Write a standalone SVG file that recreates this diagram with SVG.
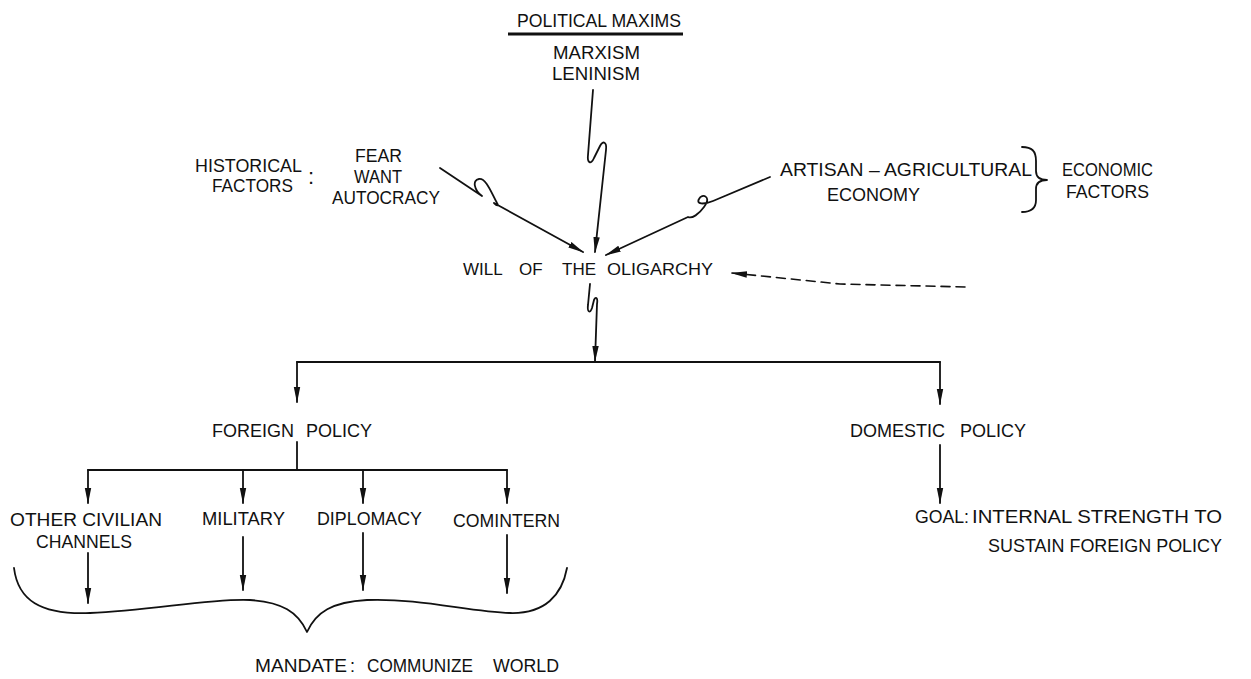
<svg xmlns="http://www.w3.org/2000/svg" width="1251" height="679" viewBox="0 0 1251 679">
<style>
text{font-family:"Liberation Sans",Arial,sans-serif;font-size:18px;fill:#111}
.ln{fill:none;stroke:#111;stroke-width:1.8;stroke-linecap:round;stroke-linejoin:round}
.arr{marker-end:url(#ah)}
.dash{stroke-dasharray:9 6;stroke-width:1.6}
</style>
<defs>
<marker id="ah" viewBox="0 0 16 8" refX="15" refY="4" markerWidth="16" markerHeight="8" markerUnits="userSpaceOnUse" orient="auto">
<path d="M0,0.8 L16,4 L0,7.2 z" fill="#111"/>
</marker>
</defs>
<rect width="1251" height="679" fill="#fff"/>

<g id="political-maxims">
<text x="517" y="27" textLength="164" lengthAdjust="spacingAndGlyphs" style="font-size:19px">POLITICAL  MAXIMS</text>
<line x1="508" y1="34" x2="683" y2="34" stroke="#111" stroke-width="3"/>
<text x="553" y="59" textLength="87" lengthAdjust="spacingAndGlyphs">MARXISM</text>
<text x="552" y="80" textLength="88" lengthAdjust="spacingAndGlyphs">LENINISM</text>
</g>

<g id="historical-factors">
<text x="195" y="172" textLength="107" lengthAdjust="spacingAndGlyphs">HISTORICAL</text>
<text x="308" y="184" style="font-size:22px">:</text>
<text x="212" y="192" textLength="81" lengthAdjust="spacingAndGlyphs">FACTORS</text>
<text x="355" y="162" textLength="47" lengthAdjust="spacingAndGlyphs">FEAR</text>
<text x="354" y="183" textLength="48" lengthAdjust="spacingAndGlyphs">WANT</text>
<text x="332" y="204" textLength="108" lengthAdjust="spacingAndGlyphs">AUTOCRACY</text>
</g>

<g id="economic-factors">
<text x="780" y="176" textLength="252" lengthAdjust="spacingAndGlyphs">ARTISAN – AGRICULTURAL</text>
<text x="827" y="201" textLength="93" lengthAdjust="spacingAndGlyphs">ECONOMY</text>
<path class="ln" d="M1022,147 C1032,147 1036,151 1036,161 L1036,171 C1036,177 1040,180 1047,180 C1040,180 1036,183 1036,189 L1036,200 C1036,208 1032,212 1022,212"/>
<text x="1062" y="176" textLength="91" lengthAdjust="spacingAndGlyphs">ECONOMIC</text>
<text x="1066" y="198" textLength="83" lengthAdjust="spacingAndGlyphs">FACTORS</text>
</g>

<g id="will-of-oligarchy">
<text y="275" style="font-size:17px"><tspan x="463">WILL</tspan><tspan x="519">OF</tspan><tspan x="562">THE</tspan><tspan x="607" textLength="106" lengthAdjust="spacingAndGlyphs">OLIGARCHY</tspan></text>
</g>

<g id="foreign-policy">
<text y="437"><tspan x="212">FOREIGN</tspan><tspan x="306">POLICY</tspan></text>
</g>

<g id="domestic-policy">
<text y="437"><tspan x="850">DOMESTIC</tspan><tspan x="960">POLICY</tspan></text>
</g>

<g id="other-civilian-channels">
<text x="10" y="526" textLength="152" lengthAdjust="spacingAndGlyphs">OTHER  CIVILIAN</text>
<text x="36" y="548" textLength="96" lengthAdjust="spacingAndGlyphs">CHANNELS</text>
</g>
<g id="military"><text x="202" y="525" textLength="83" lengthAdjust="spacingAndGlyphs">MILITARY</text></g>
<g id="diplomacy"><text x="317" y="525" textLength="105" lengthAdjust="spacingAndGlyphs">DIPLOMACY</text></g>
<g id="comintern"><text x="453" y="527" textLength="107" lengthAdjust="spacingAndGlyphs">COMINTERN</text></g>

<g id="goal">
<text x="915" y="523" textLength="54" lengthAdjust="spacingAndGlyphs">GOAL:</text>
<text x="972" y="523" textLength="250" lengthAdjust="spacingAndGlyphs">INTERNAL  STRENGTH  TO</text>
<text x="988" y="552" textLength="234" lengthAdjust="spacingAndGlyphs">SUSTAIN  FOREIGN  POLICY</text>
</g>

<g id="mandate">
<path class="ln" d="M14,568 C18,600 40,615 90,613 C150,611 210,598 250,600 C282,602 298,612 307,632 C316,612 332,602 367,600 C420,598 470,612 510,613 C545,614 562,595 567,568"/>
<text y="672"><tspan x="255" textLength="92" lengthAdjust="spacingAndGlyphs">MANDATE</tspan><tspan x="350">:</tspan><tspan x="367" textLength="106" lengthAdjust="spacingAndGlyphs">COMMUNIZE</tspan><tspan x="493" textLength="66" lengthAdjust="spacingAndGlyphs">WORLD</tspan></text>
</g>

<g id="connectors">
<path class="ln arr" d="M593,90 L588,155 C587,163 591,165 594,158 L600,146 C603,140 607,142 606,150 L595,252"/>
<path class="ln arr" d="M440,168 L482,196 C474,190 472,180 479,179 C486,178 491,192 497,203 C499,206 497,206 494,203 L583,252"/>
<path class="ln arr" d="M770,177 L713,201 C703,205 696,204 699,199 C702,193 712,196 704,207 C699,214 692,219 688,217 L606,255"/>
<path class="ln dash arr" d="M965,287 L840,284 L732,273"/>
<path class="ln arr" d="M590,284 L588,305 C587,312 590,314 592,308 L594,300 C596,296 598,298 597,304 L595,361"/>
<path class="ln" d="M297,362 L940,362"/>
<path class="ln arr" d="M297,362 L297,402"/>
<path class="ln arr" d="M940,362 L940,404"/>
<path class="ln" d="M297,442 L297,470"/>
<path class="ln" d="M88,470 L507,470"/>
<path class="ln arr" d="M88,470 L88,503"/>
<path class="ln arr" d="M243,470 L243,503"/>
<path class="ln arr" d="M363,470 L363,503"/>
<path class="ln arr" d="M507,470 L507,503"/>
<path class="ln arr" d="M88,553 L88,603"/>
<path class="ln arr" d="M243,537 L243,590"/>
<path class="ln arr" d="M363,533 L363,590"/>
<path class="ln arr" d="M507,535 L507,593"/>
<path class="ln arr" d="M940,445 L940,503"/>
</g>
</svg>
